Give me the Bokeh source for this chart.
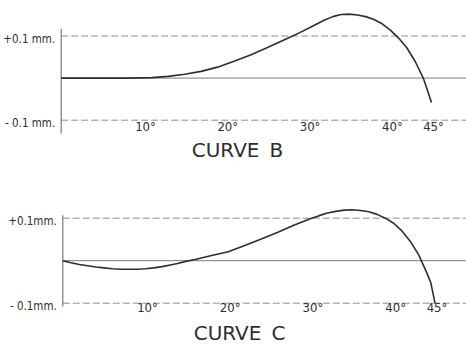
from bokeh.plotting import figure
from bokeh.models import Range1d
from bokeh.core.properties import value
from bokeh.layouts import column
from bokeh.embed import file_html
from bokeh.resources import INLINE

# ---- data ----
angles_b = [0, 4, 8, 11, 13, 15, 17, 19, 21, 23, 25, 27, 29, 31, 32, 33, 34, 35,
            36, 37, 38, 39, 40, 41, 42, 43, 44, 45]
dev_b = [0.0, 0.0, 0.0, 0.001, 0.004, 0.009, 0.016, 0.026, 0.040, 0.055, 0.072,
         0.090, 0.108, 0.128, 0.138, 0.146, 0.151, 0.152, 0.150, 0.146, 0.139,
         0.129, 0.114, 0.095, 0.072, 0.040, 0.0, -0.058]

angles_c = [0, 1, 2, 3, 4, 5, 6, 7, 8, 9, 10, 11, 12, 13, 14, 15, 16, 18, 20, 22,
            24, 26, 28, 30, 31, 32, 33, 34, 35, 36, 37, 38, 39, 40, 41, 42, 43,
            44, 44.5, 45]
dev_c = [0.0, -0.005, -0.009, -0.012, -0.015, -0.017, -0.019, -0.020, -0.020,
         -0.020, -0.019, -0.017, -0.014, -0.010, -0.006, -0.001, 0.003, 0.012,
         0.021, 0.036, 0.051, 0.067, 0.084, 0.099, 0.106, 0.112, 0.116, 0.119,
         0.120, 0.118, 0.115, 0.109, 0.100, 0.088, 0.070, 0.046, 0.015, -0.028,
         -0.052, -0.100]

x_ticks = [10, 20, 30, 40, 45]
x_tick_labels = ["10°", "20°", "30°", "40°", "45°"]
y_ticks = [0.1, -0.1]
y_labels_b = ["+0.1 mm.", "- 0.1 mm."]
y_labels_c = ["+0.1mm.", "- 0.1mm."]
zero_level = [0.0]
titles = ["CURVE\u2002B", "CURVE\u2002C"]

FONT = value("DejaVu Sans Condensed")
TITLE_FONT = value("DejaVu Sans")
INK = "#2e2e2e"


def panel(angles, dev, ylabels, title, height, xr, yr, axis_span,
          xlab_off, ylab_off, title_pos):
    p = figure(width=466, height=height, output_backend="svg", toolbar_location=None,
               x_range=Range1d(*xr), y_range=Range1d(*yr),
               x_axis_location=None, y_axis_location=None,
               min_border_left=0, min_border_right=0, min_border_top=0,
               min_border_bottom=0)
    p.outline_line_color = None
    p.grid.visible = False
    x_end = xr[1]
    # reference lines at +/-0.1 (dashed) and at zero (solid)
    p.segment(x0=[0] * len(y_ticks), x1=[x_end] * len(y_ticks), y0=y_ticks,
              y1=y_ticks, line_color="#8f8f8f", line_width=1, line_dash="7 3")
    p.segment(x0=[0], x1=[x_end], y0=zero_level, y1=zero_level,
              line_color="#7a7a7a", line_width=1)
    # vertical axis line
    p.segment(x0=[0], x1=[0], y0=[axis_span[0]], y1=[axis_span[1]],
              line_color="#7a7a7a", line_width=1.2)
    # the curve
    p.line(angles, dev, line_color=INK, line_width=1.6)
    # y labels
    p.text(x=[0] * len(y_ticks), y=y_ticks, text=ylabels, x_offset=-6,
           y_offset=ylab_off, text_align="right", text_baseline="middle",
           text_font=FONT, text_font_size="11.5px", text_color=INK)
    # x labels
    p.text(x=x_ticks, y=[y_ticks[-1]] * len(x_ticks), text=x_tick_labels,
           x_offset=2, y_offset=xlab_off, text_align="center",
           text_baseline="middle", text_font=FONT, text_font_size="13px",
           text_color=INK)
    # panel title under the plot
    p.text(x=[title_pos[0]], y=[title_pos[1]], text=[title], text_align="center",
           text_baseline="middle", text_font=TITLE_FONT,
           text_font_size="20px", text_color=INK)
    return p


pb = panel(angles_b, dev_b, y_labels_b, titles[0], 170,
           (-7.376, 49.25), (-0.2195, 0.1843), (-0.1318, 0.117), 6, 3,
           (21.42, -0.1708))
pc = panel(angles_c, dev_c, y_labels_c, titles[1], 176,
           (-7.533, 48.81), (-0.2019, 0.2122), (-0.1078, 0.107), 4, 3,
           (21.37, -0.1690))

layout = column(pb, pc, spacing=0)
open("out.html", "w").write(file_html(layout, INLINE))
